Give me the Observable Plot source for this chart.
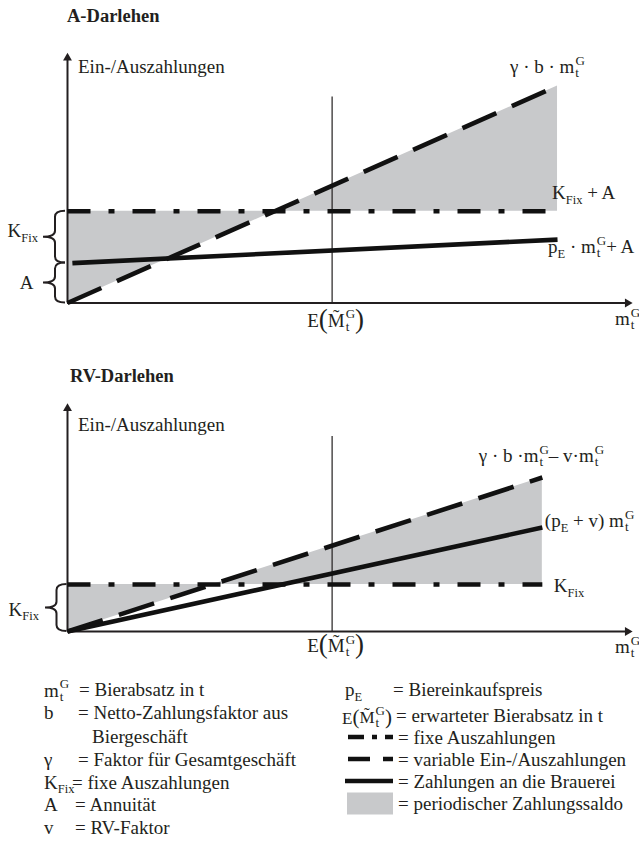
<!DOCTYPE html>
<html>
<head>
<meta charset="utf-8">
<script src="https://cdn.jsdelivr.net/npm/d3@7"></script>
<script src="https://cdn.jsdelivr.net/npm/@observablehq/plot@0.6"></script>
<style>
  html, body { margin: 0; padding: 0; background: #fff; }
  #root { position: relative; width: 639px; height: 867px; overflow: hidden;
          font-family: "Liberation Serif", "Times New Roman", serif; color: #231f20; }
  .abs { position: absolute; white-space: pre; font-size: 19px; line-height: 23px; }
  .abs17 { position: absolute; white-space: pre; font-size: 17px; line-height: 23px; }
  .title { position: absolute; font-weight: bold; font-size: 18.5px; line-height: 23px; white-space: pre; }
  #root svg { overflow: visible; }
</style>
</head>
<body>
<div id="root"></div>
<script>
// ================= DATA =================
// Panel 1: A-Darlehen (schematic units: x = beer sales m_t^G, y = payments)
const aX = [0, 10];
const aVariable = [0, 21.75];     // γ · b · m_t^G  (variable Ein-/Auszahlungen)
const aFixed = [9.2, 9.2];        // K_Fix + A      (fixe Auszahlungen)
const aBreweryX = [0.1, 10];
const aBrewery = [4.0, 6.35];     // p_E · m_t^G + A (Zahlungen an die Brauerei)
const aAnnuity = 4.0;             // A
const aExpected = 5.4;            // E(M̃_t^G)
const aExpectedTop = 20.65;
const aAxisEnd = [11.53, 25.05];  // x-axis and y-axis arrow tips

// Panel 2: RV-Darlehen
const rvX = [0, 9.69];
const rvVariable = [0, 15.4];     // γ · b · m_t^G − v · m_t^G
const rvFixed = [4.7, 4.7];       // K_Fix
const rvBrewery = [0, 10.4];      // (p_E + v) m_t^G
const rvExpected = 5.4;
const rvExpectedTop = 19.5;
const rvAxisEnd = [11.53, 22.8];

// Text
const titles = ["A-Darlehen", "RV-Darlehen"];
const yAxisLabel = "Ein-/Auszahlungen";
const MtG = {sup: "G", sub: "t"};
const aLabelTexts = {
  variable: ["γ · b · m", MtG],
  fixed: ["K", {sub: "Fix"}, " + A"],
  brewery: ["p", {sub: "E"}, " · m", MtG, "+ A"],
  kfix: ["K", {sub: "Fix"}],
  annuity: ["A"]
};
const rvLabelTexts = {
  variable: ["γ · b ·m", MtG, "– v·m", MtG],
  brewery: ["(p", {sub: "E"}, " + v) m", MtG],
  fixed: ["K", {sub: "Fix"}],
  kfix: ["K", {sub: "Fix"}]
};
const xAxisLabel = ["m", MtG];
const expectedLabel = ["E", {paren: "("}, {tilde: "M"}, MtG, {paren: ")"}];

const legendLeftSymbols = [["m", MtG], ["b"], [], ["γ"], ["K", {sub: "Fix"}], ["A"], ["v"]];
const legendLeftTexts = ["= Bierabsatz in t", "= Netto-Zahlungsfaktor aus", "Biergeschäft",
  "= Faktor für Gesamtgeschäft", "= fixe Auszahlungen", "= Annuität", "= RV-Faktor"];
const legendRightSymbols = [["p", {sub: "E"}], expectedLabel, "dashdot", "dashed", "solid", "fill"];
const legendRightTexts = ["= Biereinkaufspreis", "= erwarteter Bierabsatz in t", "= fixe Auszahlungen",
  "= variable Ein-/Auszahlungen", "= Zahlungen an die Brauerei", "= periodischer Zahlungssaldo"];

// ================= STYLE =================
const INK = "#231f20";
const GREY = "#c8c9cb";
const FONT = '"Liberation Serif", "Times New Roman", serif';
const BASE = 19, SCRIPT = 13, SUB = 12.5, PAREN = 27;
const DASH = "37,17";
const DASHDOT = "23,18,6,18";
const LW = 4.6;
// advance widths (em) of the few glyphs that need overprinting
const EMW = {t: 0.278, M: 0.889, "˜": 0.333};

// one <text> per label, laid out by the browser with tspans
function svgRich(g, parts, x, y, anchor) {
  const text = g.append("text").attr("x", x).attr("y", y).attr("font-size", BASE)
    .attr("text-anchor", anchor || "start");
  let shift = 0, pendingDx = 0;
  const span = (s, size, dy, dx) => {
    const t = text.append("tspan").attr("font-size", size).text(s);
    if (dy) t.attr("dy", dy);
    const ddx = (dx || 0) + pendingDx; pendingDx = 0;
    if (ddx) t.attr("dx", ddx);
    return t;
  };
  for (const p of parts) {
    if (typeof p === "string") { span(p, BASE, -shift); shift = 0; }
    else if ("tilde" in p) {
      span(p.tilde, BASE, -shift); shift = 0;
      const wm = EMW.M * BASE, wt = EMW["˜"] * BASE;
      span("˜", BASE, -4, -(wm + wt) / 2); shift = -4;
      pendingDx = (wm - wt) / 2;
    }
    else if ("paren" in p) { span(p.paren, PAREN, 1 - shift); shift = 1; }
    else if ("sup" in p) {
      span(p.sub, SCRIPT, 4 - shift, 1);
      span(p.sup, SCRIPT, -12.5, -EMW.t * SCRIPT); shift = -8.5;
    }
    else if ("sub" in p) { span(p.sub, SUB, 4.5 - shift); shift = 4.5; }
  }
}
// label mark: anchored on data values, offset in pixels
function labelMark(specs) {
  return (index, scales) => {
    const g = d3.create("svg:g").attr("font-family", FONT).attr("fill", INK)
      .style("font-family", FONT).attr("text-anchor", "start");
    for (const s of specs) svgRich(g, s.parts, scales.x(s.x) + s.dx, scales.y(s.y) + s.dy, s.anchor);
    return g.node();
  };
}
// curly brace mark between two data values on the y axis
function braceMark(braces) {
  return (index, scales) => {
    const g = d3.create("svg:g").attr("fill", "none").attr("stroke", INK).attr("stroke-width", 2);
    for (const b of braces) {
      const x0 = scales.x(0);
      const xt = x0 + b.tip, xs = x0 + b.spine, xc = x0 + b.cusp;
      const y1 = scales.y(b.top), y2 = scales.y(b.bottom), ym = (y1 + y2) / 2, r = 6;
      g.append("path").attr("d",
        `M${xt},${y1}Q${xs},${y1} ${xs},${y1 + r}L${xs},${ym - r}Q${xs},${ym} ${xc},${ym}` +
        `Q${xs},${ym} ${xs},${ym + r}L${xs},${y2 - r}Q${xs},${y2} ${xt},${y2}`);
    }
    return g.node();
  };
}
const zip = (xs, ys) => xs.map((x, i) => ({x, y: ys[i]}));

function panel({xs, variable, fixed, breweryX, brewery, expected, expectedTop, axisEnd,
                height, marginTop, marginBottom, labels, braces}) {
  const band = xs.map((x, i) => ({x, y1: fixed[i], y2: variable[i]}));
  return Plot.plot({
    width: 639, height, marginLeft: 67, marginRight: 7, marginTop, marginBottom,
    x: {domain: [0, axisEnd[0]], axis: null},
    y: {domain: [0, axisEnd[1]], axis: null},
    style: {background: "transparent", overflow: "visible"},
    marks: [
      Plot.areaY(band, {x: "x", y1: "y1", y2: "y2", fill: GREY}),
      Plot.ruleX([expected], {y1: 0, y2: expectedTop, stroke: INK, strokeWidth: 1.2}),
      Plot.ruleY([0], {x1: 0, x2: axisEnd[0] - 0.1, stroke: INK, strokeWidth: 2}),
      Plot.ruleX([0], {y1: 0, y2: axisEnd[1] - 0.4, stroke: INK, strokeWidth: 2}),
      Plot.dot([{x: axisEnd[0], y: 0}], {x: "x", y: "y", symbol: "triangle", r: 3.3, fill: INK, rotate: 90, dx: -5}),
      Plot.dot([{x: 0, y: axisEnd[1]}], {x: "x", y: "y", symbol: "triangle", r: 3.3, fill: INK, dy: 5}),
      Plot.line(zip(xs, fixed), {x: "x", y: "y", stroke: "#111", strokeWidth: LW, strokeDasharray: DASHDOT, strokeLinecap: "butt"}),
      Plot.line(zip(breweryX, brewery), {x: "x", y: "y", stroke: "#111", strokeWidth: LW, strokeLinecap: "butt"}),
      Plot.line(zip(xs, variable), {x: "x", y: "y", stroke: "#111", strokeWidth: LW, strokeDasharray: DASH, strokeLinecap: "butt"}),
      braceMark(braces),
      labelMark(labels)
    ]
  });
}

const root = document.getElementById("root");
function addDiv(cls, left, top, html) {
  const d = document.createElement("div");
  d.className = cls; d.style.left = left + "px"; d.style.top = top + "px"; d.innerHTML = html;
  root.appendChild(d); return d;
}
addDiv("title", 67, 4.8, titles[0]);
addDiv("title", 70, 365, titles[1]);

// ---------- Panel 1 ----------
const p1 = panel({
  xs: aX, variable: aVariable, fixed: aFixed, breweryX: aBreweryX, brewery: aBrewery,
  expected: aExpected, expectedTop: aExpectedTop, axisEnd: aAxisEnd,
  height: 310, marginTop: 20.5, marginBottom: 39.5,
  labels: [
    {x: 0, y: aAxisEnd[1], dx: 11, dy: 20.5, parts: [yAxisLabel]},
    {x: aX[1], y: aVariable[1], dx: -47, dy: -12, parts: aLabelTexts.variable},
    {x: aX[1], y: aFixed[1], dx: -5, dy: -11.5, parts: aLabelTexts.fixed},
    {x: aX[1], y: aBrewery[1], dx: -9, dy: 14, parts: aLabelTexts.brewery},
    {x: aAxisEnd[0], y: 0, dx: -17, dy: 22.5, parts: xAxisLabel},
    {x: aExpected, y: 0, dx: 4, dy: 24, parts: expectedLabel, anchor: "middle"},
    {x: 0, y: (aAnnuity + aFixed[0]) / 2, dx: -29, dy: 0.5, parts: aLabelTexts.kfix, anchor: "end"},
    {x: 0, y: aAnnuity / 2, dx: -33.5, dy: 6.5, parts: aLabelTexts.annuity, anchor: "end"}
  ],
  braces: [
    {top: aFixed[0], bottom: aAnnuity, tip: -2, spine: -12, cusp: -24},
    {top: aAnnuity, bottom: 0, tip: -2, spine: -12, cusp: -24}
  ]
});
p1.style.position = "absolute"; p1.style.left = "0px"; p1.style.top = "32px";
root.appendChild(p1);

// ---------- Panel 2 ----------
const p2 = panel({
  xs: rvX, variable: rvVariable, fixed: rvFixed, breweryX: rvX, brewery: rvBrewery,
  expected: rvExpected, expectedTop: rvExpectedTop, axisEnd: rvAxisEnd,
  height: 278, marginTop: 11, marginBottom: 39,
  labels: [
    {x: 0, y: rvAxisEnd[1], dx: 11, dy: 28, parts: [yAxisLabel]},
    {x: rvX[1], y: rvVariable[1], dx: -63, dy: -15, parts: rvLabelTexts.variable},
    {x: rvX[1], y: rvBrewery[1], dx: 3, dy: 0, parts: rvLabelTexts.brewery},
    {x: rvX[1], y: rvFixed[1], dx: 12, dy: 8, parts: rvLabelTexts.fixed},
    {x: rvAxisEnd[0], y: 0, dx: -17, dy: 22, parts: xAxisLabel},
    {x: rvExpected, y: 0, dx: 4, dy: 21, parts: expectedLabel, anchor: "middle"},
    {x: 0, y: rvFixed[0] / 2, dx: -28, dy: 8, parts: rvLabelTexts.kfix, anchor: "end"}
  ],
  braces: [
    {top: rvFixed[0], bottom: 0, tip: -0.5, spine: -10.5, cusp: -22}
  ]
});
p2.style.position = "absolute"; p2.style.left = "0px"; p2.style.top = "392px";
root.appendChild(p2);

// ---------- Legend (below the charts) ----------
const esc = s => s.replace(/&/g, "&amp;").replace(/</g, "&lt;");
function htmlRich(parts, parenSize) {
  return parts.map(p => {
    if (typeof p === "string") return esc(p);
    if ("tilde" in p) return `<span style="position:relative;display:inline-block">${p.tilde}<span style="position:absolute;left:0;right:0;text-align:center;top:-1px;line-height:17px">˜</span></span>`;
    if ("paren" in p) return `<span style="font-size:${parenSize}px;position:relative;top:1px;line-height:0">${p.paren}</span>`;
    if ("sup" in p) return `<span style="display:inline-block;vertical-align:-4px;font-size:${SCRIPT}px;line-height:12.5px;margin-left:1px"><span style="display:block">${p.sup}</span><span style="display:block">${p.sub}</span></span>`;
    if ("sub" in p) return `<span style="font-size:${SUB}px;position:relative;top:4.5px;line-height:0">${p.sub}</span>`;
    return "";
  }).join("");
}
const leftBaselines = [696, 719, 742.5, 765.5, 788.5, 811, 834];
const leftTextX = [79, 78, 92, 78, 72, 75, 75];
legendLeftTexts.forEach((txt, i) => {
  const top = leftBaselines[i] - 17.9;
  if (legendLeftSymbols[i].length) addDiv("abs", 44, top, htmlRich(legendLeftSymbols[i], 27));
  addDiv("abs", leftTextX[i], top, esc(txt));
});
const rightBaselines = [696, 722, 743.5, 765.5, 787.5, 810];
const rightTextX = [393, 396, 398, 398, 398, 398];
const swTop = 720;
const sw = d3.create("svg").attr("width", 60).attr("height", 110)
  .style("position", "absolute").style("left", "340px").style("top", swTop + "px");
legendRightTexts.forEach((txt, i) => {
  const top = rightBaselines[i] - 17.9;
  const sym = legendRightSymbols[i];
  const cy = rightBaselines[i] - 6.5 - swTop;
  if (sym === expectedLabel) addDiv("abs17", 342, rightBaselines[i] - 17.25, htmlRich(sym, 21));
  else if (Array.isArray(sym)) addDiv("abs", 345, top, htmlRich(sym, 27));
  else if (sym === "fill") sw.append("rect").attr("x", 7).attr("y", cy - 11).attr("width", 46).attr("height", 22).attr("fill", GREY);
  else {
    const l = sw.append("line").attr("x1", sym === "solid" ? 5 : 8).attr("x2", 53).attr("y1", cy).attr("y2", cy)
      .attr("stroke", "#111").attr("stroke-width", LW);
    if (sym === "dashdot") l.attr("stroke-dasharray", "16,8,5,8,16");
    if (sym === "dashed") l.attr("stroke-dasharray", "22,13,10");
  }
  addDiv("abs", rightTextX[i], top, esc(txt));
});
root.appendChild(sw.node());
</script>
</body>
</html>
